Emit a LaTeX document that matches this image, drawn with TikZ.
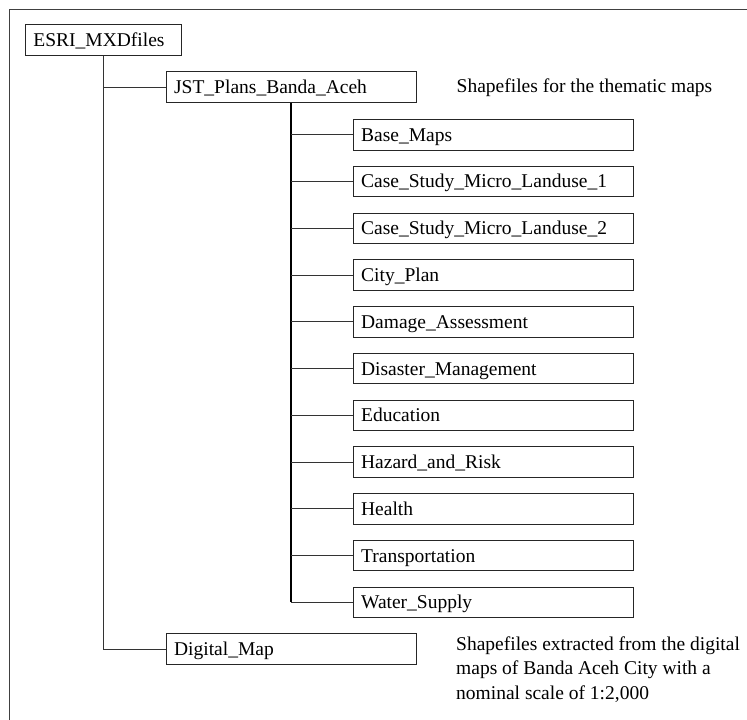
\documentclass[tikz,border=0pt]{standalone}
\usepackage{fontspec}
\setmainfont{Liberation Serif}
\begin{document}
\begin{tikzpicture}[x=1pt,y=-1pt,
  every node/.style={font=\fontsize{19.5}{24.5}\selectfont},
  folder/.style={draw=black!85, line width=0.9pt, rectangle, anchor=north west,
    inner xsep=8pt, inner ysep=0pt, text height=15pt, text depth=2pt, align=left},
  topbox/.style={folder, minimum height=31pt, text width=#1},
  subbox/.style={folder, minimum height=30.5pt, text width=264pt},
  link/.style={draw=black!80, line width=0.9pt},
  trunk/.style={draw=black, line width=1.8pt},
  note/.style={anchor=north west, inner sep=0pt, align=left}]
\useasboundingbox (0,0) rectangle (747,720);
% outer frame (only top and left edges fall inside the page)
\draw[draw=black!75, line width=0.9pt] (747,9) -- (9,9) -- (9,720);

% top-level folders
\node[topbox=140pt] (esri) at (25,24) {ESRI\_MXDfiles};
\node[topbox=234pt] (jst) at (165.7,71) {JST\_Plans\_Banda\_Aceh};
\node[topbox=234pt] (dmap) at (165.7,633.3) {Digital\_Map};

% thematic sub-folders
\foreach \i/\name in {0/Base\_Maps, 1/Case\_Study\_Micro\_Landuse\_1,
    2/Case\_Study\_Micro\_Landuse\_2, 3/City\_Plan, 4/Damage\_Assessment,
    5/Disaster\_Management, 6/Education, 7/Hazard\_and\_Risk, 8/Health,
    9/Transportation, 10/Water\_Supply}
  \node[subbox] (c\i) at (352.7,{119+46.77*\i}) {\name};

% descriptions
\node[note] (jstnote) at (456.5,78.5) {Shapefiles for the thematic maps};
\node[note] (dmapnote) at (456,636.5) {Shapefiles extracted from the digital\\
  maps of Banda Aceh City with a\\ nominal scale of 1:2,000};

% connectors
\draw[link] (esri.south) |- (jst.west);
\draw[link] (esri.south) |- (dmap.west);
\draw[trunk] (jst.south) -- (jst.south |- c10.west);
\foreach \i in {0,...,10}
  \draw[link] (jst.south |- c\i.west) -- (c\i.west);
\end{tikzpicture}
\end{document}
